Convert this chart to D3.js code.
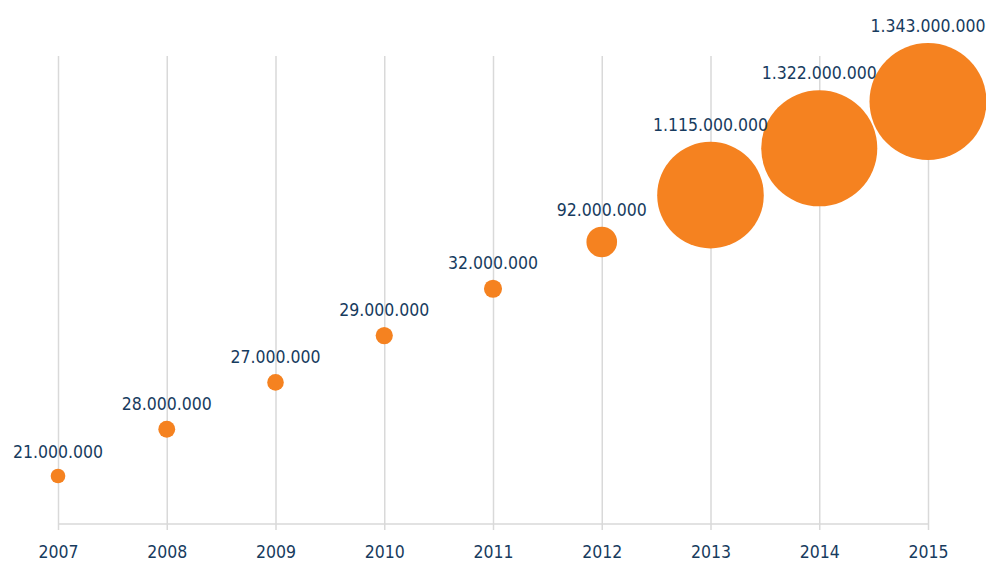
<!DOCTYPE html>
<html>
<head>
<meta charset="utf-8">
<script src="https://cdn.jsdelivr.net/npm/d3@7"></script>
<style>
  body { margin: 0; background: #fff; }
  #graph text { font-family: "DejaVu Sans Condensed", "DejaVu Sans", sans-serif; font-stretch: condensed; fill: #173b5e; }
</style>
</head>
<body>
<div id="graph"></div>
<script>
/* chart data */
const years = ["2007", "2008", "2009", "2010", "2011", "2012", "2013", "2014", "2015"];
const values = [21000000, 28000000, 27000000, 29000000, 32000000, 92000000, 1115000000, 1322000000, 1343000000];
const valueLabels = ["21.000.000", "28.000.000", "27.000.000", "29.000.000", "32.000.000", "92.000.000", "1.115.000.000", "1.322.000.000", "1.343.000.000"];

window.addEventListener("DOMContentLoaded", main)

function main() {
    const W = 986, H = 567;
    const orange = "#f58220";
    const gridColor = "#d9d9d9";
    const axisY = 524, gridTop = 56, tickBottom = 530;

    const svg = d3.select("#graph").append("svg").attr("width", W).attr("height", H)

    const data = years.map((y, i) => ({ year: y, value: values[i], label: valueLabels[i] }))

    /* scales */
    const xScale = d3.scalePoint().domain(years).range([58, 928]);
    const yScale = d3.scalePoint().domain(years).range([476, 101.5]);
    const rScale = d3.scaleSqrt().domain([0, d3.max(values)]).range([0, 58.5]);

    /* grid + year labels */
    const xAxis = d3.axisBottom(xScale).tickSize(-(tickBottom - gridTop)).tickPadding(16);
    const gx = svg.append("g")
        .attr("id", "x-axis")
        .attr("transform", "translate(0," + tickBottom + ")")
        .call(xAxis);
    gx.select(".domain").remove();
    gx.selectAll(".tick line").attr("stroke", gridColor).attr("stroke-width", 1.5);
    gx.selectAll(".tick text").style("font-size", "17.5px");

    /* base line */
    svg.append("line")
        .attr("x1", xScale(years[0])).attr("x2", xScale(years[years.length - 1]))
        .attr("y1", axisY).attr("y2", axisY)
        .attr("stroke", gridColor).attr("stroke-width", 1.5);

    /* bubbles */
    svg.selectAll(".dot")
        .data(data)
        .enter()
        .append("circle")
        .attr("class", "dot")
        .attr("cx", d => xScale(d.year))
        .attr("cy", d => yScale(d.year))
        .attr("r", d => rScale(d.value))
        .attr("fill", orange);

    /* value labels */
    svg.selectAll(".val")
        .data(data)
        .enter()
        .append("text")
        .attr("class", "val")
        .attr("x", d => xScale(d.year))
        .attr("y", d => yScale(d.year) - rScale(d.value) - 11)
        .attr("text-anchor", "middle")
        .style("font-size", "17.5px")
        .text(d => d.label);
}
</script>
</body>
</html>
